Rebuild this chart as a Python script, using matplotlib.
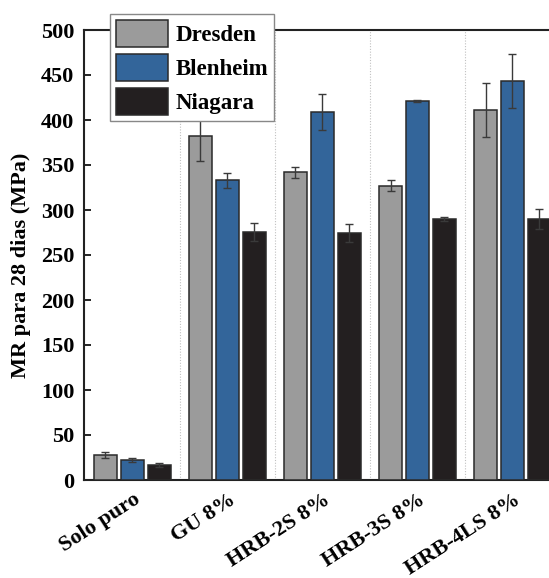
import matplotlib
matplotlib.use("Agg")
import matplotlib.pyplot as plt
import matplotlib.transforms as mtransforms
import numpy as np

categories = ["Solo puro", "GU 8%", "HRB-2S 8%", "HRB-3S 8%", "HRB-4LS 8%"]
series = ["Dresden", "Blenheim", "Niagara"]
dresden = [28, 382, 342, 327, 411]
dresden_err = [3, 27, 6, 6, 30]
blenheim = [22, 333, 409, 421, 443]
blenheim_err = [2.5, 8, 20, 1.5, 30]
niagara = [17, 276, 275, 290, 290]
niagara_err = [2, 10, 10, 2.5, 11]
yticks = [0, 50, 100, 150, 200, 250, 300, 350, 400, 450, 500]

colors = ["#9b9b9b", "#33659a", "#231f20"]

plt.rcParams['font.family'] = ['Liberation Serif', 'DejaVu Serif']
plt.rcParams['font.weight'] = 'bold'

fig = plt.figure(figsize=(5.49, 5.78), dpi=100)
ax = fig.add_axes([84/549, 98/578, 476/549, 450/578])

x = np.arange(len(categories))
w = 0.245
off = 0.284
vals = [dresden, blenheim, niagara]
errs = [dresden_err, blenheim_err, niagara_err]
for i, (v, e, c, name) in enumerate(zip(vals, errs, colors, series)):
    ax.bar(x + (i - 1) * off, v, width=w, color=c, edgecolor="#2a2a2a",
           linewidth=1.1, label=name, zorder=3,
           yerr=e, error_kw=dict(ecolor="#3a3a3a", elinewidth=1.0, capsize=3, capthick=1.0, zorder=4))

for s in np.arange(0.5, len(categories) - 0.5, 1.0):
    ax.axvline(s, color="#c0c0c0", linestyle=(0, (1, 1.5)), linewidth=0.8, zorder=1)

ax.set_xlim(-0.51, 4.5)
ax.set_ylim(0, 500)
ax.set_yticks(yticks)
ax.tick_params(axis='y', direction='in', length=5, width=1.2, labelsize=16, pad=7)
ax.tick_params(axis='x', length=0, labelsize=16, pad=16)
ax.set_xticks(x)
ax.set_xticklabels(categories, rotation=33, ha='right', va='baseline',
                   rotation_mode='anchor', fontweight='bold')
offset = mtransforms.ScaledTranslation(9/100, 0, fig.dpi_scale_trans)
for lab in ax.get_xticklabels():
    lab.set_transform(lab.get_transform() + offset)
for lab in ax.get_yticklabels():
    lab.set_fontweight('bold')
ax.set_ylabel("MR para 28 dias (MPa)", fontsize=16, fontweight='bold')
ax.yaxis.set_label_coords(-0.111, 0.478)

for sp in ["left", "bottom", "top"]:
    ax.spines[sp].set_linewidth(1.5)
    ax.spines[sp].set_color("#222222")
ax.spines["right"].set_visible(False)

leg = ax.legend(loc='upper left', bbox_to_anchor=(110/549, 1 - 14/578),
                bbox_transform=fig.transFigure, borderaxespad=0,
                handlelength=2.3, handleheight=1.45, borderpad=0.25, labelspacing=0.3,
                handletextpad=0.3, frameon=True, fancybox=False, framealpha=1,
                edgecolor="#888888", prop={'weight': 'bold', 'size': 16.5})
leg.get_frame().set_linewidth(1.0)
leg.set_zorder(10)

fig.savefig("out.png", dpi=100)
